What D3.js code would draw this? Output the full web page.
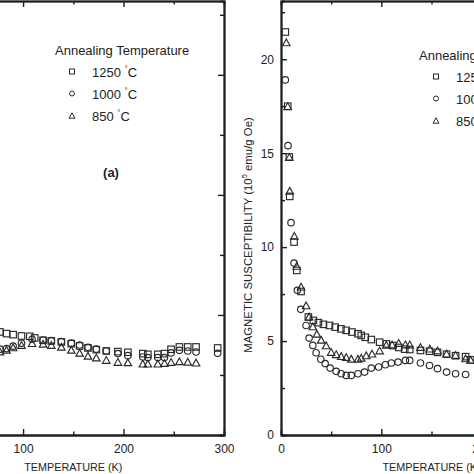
<!DOCTYPE html>
<html>
<head>
<meta charset="utf-8">
<script src="https://cdn.jsdelivr.net/npm/d3@7"></script>
<style>
body { margin: 0; background: #fff; }
text { font-family: "Liberation Sans", Arial, sans-serif; fill: #222; }
</style>
</head>
<body>
<div></div>
<script>
// left panel (a) - [temperature K, value]
var leftSq = [[77,1.717],[83.5,1.689],[90.1,1.672],[98.4,1.65],[106.7,1.644],[111.6,1.617],[119.9,1.578],[128.1,1.567],[138.1,1.55],[148,1.522],[156.3,1.483],[164.6,1.45],[172.9,1.422],[182.8,1.40],[194.4,1.389],[204.3,1.378],[219.2,1.356],[224.2,1.344],[234.1,1.344],[240.7,1.356],[247.3,1.428],[255.6,1.467],[263.9,1.467],[272.2,1.467],[293.7,1.45]]
var leftCi = [[77,1.43],[83.5,1.44],[90.1,1.48],[98.4,1.53],[109,1.595],[119.9,1.583],[128.1,1.572],[138.1,1.556],[148,1.53],[156.3,1.50],[164.6,1.46],[172.9,1.43],[182.8,1.40],[194.4,1.356],[204.3,1.322],[219.2,1.30],[224.2,1.289],[234.1,1.289],[240.7,1.289],[247.3,1.367],[255.6,1.411],[263.9,1.40],[272.2,1.383],[293.7,1.361]]
var leftTr = [[77,1.39],[83.5,1.42],[90.1,1.46],[98.4,1.50],[109,1.53],[119.9,1.52],[128.1,1.50],[138.1,1.47],[148,1.42],[156.3,1.37],[164.6,1.32],[172.9,1.29],[182.8,1.25],[194.4,1.217],[204.3,1.211],[219.2,1.189],[224.2,1.189],[234.1,1.189],[240.7,1.20],[247.3,1.217],[255.6,1.228],[263.9,1.22],[272.2,1.206]]

// right panel - magnetic susceptibility
var rightSq = [[4.3,21.45],[6.7,17.5],[8.3,14.8],[8.7,12.7],[13,10.27],[15.7,8.76],[20,7.64],[27.3,6.28],[32.3,6.1],[37.3,5.98],[42.3,5.89],[48.3,5.83],[54,5.74],[59.7,5.65],[65,5.57],[70.7,5.48],[76.7,5.39],[80,5.3],[84,5.2],[90,5.08],[98.3,4.94],[105,4.85],[111.7,4.76],[117.3,4.66],[123.3,4.57],[128.3,4.55],[139,4.5],[148,4.46],[156,4.4],[165,4.3],[174,4.22],[184,4.17],[189,4.0]]
var rightCi = [[4.3,18.9],[7,15.4],[10,11.3],[13,9.15],[16.3,7.7],[19.7,6.69],[25,5.83],[28,5.16],[31.7,4.77],[35,4.38],[39.7,4.03],[44,3.8],[49,3.56],[55,3.39],[60,3.26],[65,3.17],[70,3.17],[76.7,3.26],[83.3,3.35],[90,3.56],[97.3,3.62],[104,3.74],[110,3.83],[116.7,3.88],[124,3.97],[128.3,3.97],[139,3.83],[148,3.7],[156,3.53],[165,3.35],[174,3.26],[184,3.22]]
var rightTr = [[5.3,20.9],[6.7,17.5],[8.3,14.8],[8.7,13.0],[13.3,10.6],[15.7,9.0],[20,7.9],[25,6.9],[28,6.3],[31.7,5.78],[35.7,5.39],[40,5.07],[45,4.77],[50,4.42],[55,4.3],[60,4.2],[65,4.15],[70,4.06],[76.7,4.06],[80,4.11],[85,4.24],[90.7,4.33],[98.3,4.5],[105,4.8],[110.7,4.82],[117.3,4.9],[124,4.82],[128.3,4.82],[139,4.68],[148.3,4.6],[156,4.5],[165,4.33],[174,4.26],[184,4.08],[189,4.0]]

var legendNames = ["1250", "1000", "850"]
var xTicks = [0, 100, 200, 300]
var xMinor = [50, 150, 250]
var rightYTicks = [0, 5, 10, 15, 20]
var rightYMinor = [2.5, 7.5, 12.5, 17.5, 22.5]
var leftYTicks = [0, 2, 4, 6]
var leftYMinor = [1, 3, 5, 7]

var svg = d3.select("div").append("svg")
  .attr("width", 474).attr("height", 474)
svg.append("rect").attr("width", 474).attr("height", 474).attr("fill", "#fff")

var ink = "#1e1e1e"
var markInk = "#2a2a2a"

function marker(g, kind, x, y, s, w) {
  w = w || 1.15
  if (kind == 0) {
    g.append("rect").attr("x", x - s/2).attr("y", y - s/2).attr("width", s).attr("height", s)
      .attr("fill", "none").attr("stroke", markInk).attr("stroke-width", w)
  } else if (kind == 1) {
    g.append("circle").attr("cx", x).attr("cy", y).attr("r", s/2)
      .attr("fill", "none").attr("stroke", markInk).attr("stroke-width", w)
  } else {
    var h = s * 0.9
    g.append("path").attr("d", "M" + x + "," + (y - h/2) + "L" + (x + s/2) + "," + (y + h/2) + "L" + (x - s/2) + "," + (y + h/2) + "Z")
      .attr("fill", "none").attr("stroke", markInk).attr("stroke-width", w)
  }
}

function panel(opt) {
  var g = svg.append("g")
  var x = d3.scaleLinear().domain([0, 300]).range(opt.xr)
  var y = d3.scaleLinear().domain(opt.yd).range([435, 1])

  // ticks point inward
  var bottom = g.append("g").attr("transform", "translate(0,435)")
  bottom.call(d3.axisBottom(x).tickValues(xTicks).tickSize(-6).tickSizeOuter(0).tickPadding(9).tickFormat(d3.format("d")))
  bottom.append("g").call(d3.axisBottom(x).tickValues(xMinor).tickSize(-3.5).tickFormat(""))
  var top = g.append("g").attr("transform", "translate(0,1)")
  top.call(d3.axisTop(x).tickValues(xTicks).tickSize(-6).tickSizeOuter(0).tickFormat(""))
  top.append("g").call(d3.axisTop(x).tickValues(xMinor).tickSize(-3.5).tickFormat(""))

  var side
  if (opt.side == "left") {
    side = g.append("g").attr("transform", "translate(" + opt.xr[0] + ",0)")
    side.call(d3.axisLeft(y).tickValues(opt.yTicks).tickSize(-6).tickSizeOuter(0).tickPadding(7).tickFormat(d3.format("d")))
    side.append("g").call(d3.axisLeft(y).tickValues(opt.yMinor).tickSize(-4).tickFormat(""))
  } else {
    side = g.append("g").attr("transform", "translate(" + opt.xr[1] + ",0)")
    side.call(d3.axisRight(y).tickValues(opt.yTicks).tickSize(-6).tickSizeOuter(0).tickFormat(""))
    side.append("g").call(d3.axisRight(y).tickValues(opt.yMinor).tickSize(-4).tickFormat(""))
  }
  g.selectAll(".domain").attr("stroke", ink).attr("stroke-width", 1.8)
  g.selectAll(".tick line").attr("stroke", ink).attr("stroke-width", 1.4)
  g.selectAll(".tick text").attr("font-size", 12).attr("fill", ink)
    .style("font-family", "'Liberation Sans', Arial, sans-serif")
  top.select(".domain").attr("stroke", "#777").attr("stroke-width", 2)

  g.append("text").attr("x", (opt.xr[0] + opt.xr[1]) / 2).attr("y", 471)
    .attr("text-anchor", "middle").attr("font-size", 10.8).text("TEMPERATURE (K)")

  var series = [opt.sq, opt.ci, opt.tr]
  var sizes = [6.5, 6.5, 7.5]
  series.forEach(function (s, k) {
    var mg = g.append("g")
    s.forEach(function (d) { marker(mg, k, x(d[0]), y(d[1]), sizes[k]) })
  })

  // legend
  var lg = g.append("g")
  lg.append("text").attr("x", opt.lx).attr("y", opt.ly).attr("font-size", 13).text("Annealing Temperature")
  legendNames.forEach(function (n, i) {
    var cy = opt.ly + 17 + i * 22
    marker(lg, i, opt.lx + 17, cy, i == 2 ? 6 : 5, 1)
    var t = lg.append("text").attr("x", opt.lx + 37).attr("y", cy + 5).attr("font-size", 13)
    t.append("tspan").text(n + " ")
    t.append("tspan").attr("font-size", 8).attr("dy", -6).text("°")
    t.append("tspan").attr("dy", 6).text("C")
  })
  return g
}

var gl = panel({ xr: [-77.4, 224], yd: [0, 7.23], side: "right", yTicks: leftYTicks, yMinor: leftYMinor,
  sq: leftSq, ci: leftCi, tr: leftTr, lx: 55, ly: 54.5 })
gl.append("text").attr("x", 111).attr("y", 176.5).attr("text-anchor", "middle")
  .attr("font-size", 13).attr("font-weight", "bold").text("(a)")

var gr = panel({ xr: [281, 582], yd: [0, 23.1], side: "left", yTicks: rightYTicks, yMinor: rightYMinor,
  sq: rightSq, ci: rightCi, tr: rightTr, lx: 419, ly: 59.5 })
var yl = gr.append("text").attr("transform", "translate(252,235) rotate(-90)")
  .attr("text-anchor", "middle").attr("font-size", 11.4)
yl.append("tspan").text("MAGNETIC SUSCEPTIBILITY (10")
yl.append("tspan").attr("font-size", 7.5).attr("dy", -5).text("5")
yl.append("tspan").attr("dy", 5).text(" emu/g Oe)")
</script>
</body>
</html>
